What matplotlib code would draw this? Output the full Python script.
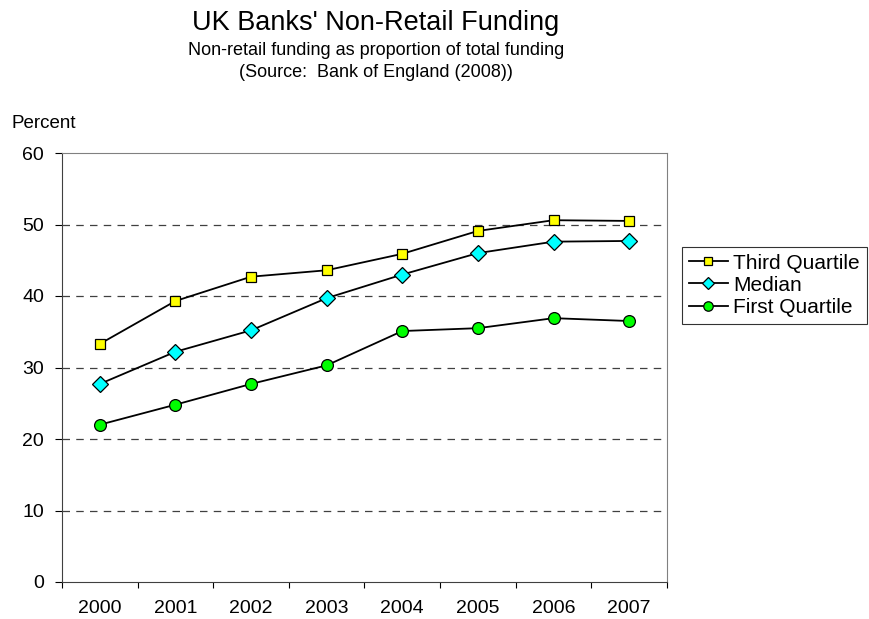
# UK banks' non-retail funding - quartiles, 2000-2007
import matplotlib
matplotlib.use('Agg')
import matplotlib.pyplot as plt

plt.rcParams['font.family'] = ['Liberation Sans', 'DejaVu Sans']

years = ['2000', '2001', '2002', '2003', '2004', '2005', '2006', '2007']
third_quartile = [33.3, 39.3, 42.7, 43.6, 45.9, 49.1, 50.6, 50.5]
median = [27.7, 32.2, 35.2, 39.7, 43.0, 46.0, 47.6, 47.7]
first_quartile = [22.0, 24.8, 27.7, 30.3, 35.1, 35.5, 36.9, 36.5]
y_ticks = [0, 10, 20, 30, 40, 50, 60]

fig = plt.figure(figsize=(8.7, 6.19), dpi=100)
ax = fig.add_axes([62 / 870, 37 / 619, 605 / 870, 429 / 619])

x = list(range(len(years)))
ax.plot(x, third_quartile, color='black', linewidth=1.3, marker='s', markersize=7.5,
        markerfacecolor='#ffff00', markeredgecolor='black', markeredgewidth=0.9,
        label='Third Quartile', zorder=3)
ax.plot(x, median, color='black', linewidth=1.3, marker='D', markersize=8,
        markerfacecolor='#00ffff', markeredgecolor='black', markeredgewidth=0.9,
        label='Median', zorder=3)
ax.plot(x, first_quartile, color='black', linewidth=1.3, marker='o', markersize=8.5,
        markerfacecolor='#00ff00', markeredgecolor='black', markeredgewidth=0.9,
        label='First Quartile', zorder=3)

ax.set_xlim(-0.5, len(years) - 0.5)
ax.set_ylim(0, 60)
ax.set_yticks(y_ticks)
ax.set_xticks(x)
ax.set_xticklabels(years)
ax.set_xticks([i - 0.5 for i in range(len(years) + 1)], minor=True)
ax.tick_params(axis='x', which='major', length=0, labelsize=14, pad=13)
ax.tick_params(axis='x', which='minor', length=4, direction='out', width=0.8)
ax.tick_params(axis='y', labelsize=14, length=5, width=0.8, direction='out', pad=8)

for yv in y_ticks[1:-1]:
    ax.axhline(yv, color='#404040', linestyle=(0, (6, 5)), linewidth=0.9, zorder=1)

ax.spines['left'].set_color('#404040')
ax.spines['bottom'].set_color('#404040')
ax.spines['top'].set_color('#808080')
ax.spines['right'].set_color('#808080')

leg = ax.legend(loc='upper left', bbox_to_anchor=(682 / 870, 1 - 247 / 619),
                bbox_transform=fig.transFigure, frameon=True, fancybox=False,
                fontsize=15, handlelength=1.9, handletextpad=0.25, markerscale=0.8,
                borderpad=0.32, labelspacing=0.15, borderaxespad=0)
leg.get_frame().set_edgecolor('black')
leg.get_frame().set_linewidth(0.8)

fig.text(376 / 870, 1 - 30 / 619, "UK Banks' Non-Retail Funding", ha='center', va='baseline', fontsize=19.5)
fig.text(376 / 870, 1 - 55 / 619, 'Non-retail funding as proportion of total funding',
         ha='center', va='baseline', fontsize=13)
fig.text(376 / 870, 1 - 77 / 619, '(Source:  Bank of England (2008))',
         ha='center', va='baseline', fontsize=13)
fig.text(12 / 870, 1 - 128 / 619, 'Percent', ha='left', va='baseline', fontsize=13.5)

plt.savefig('out.png', dpi=100)
plt.close()
